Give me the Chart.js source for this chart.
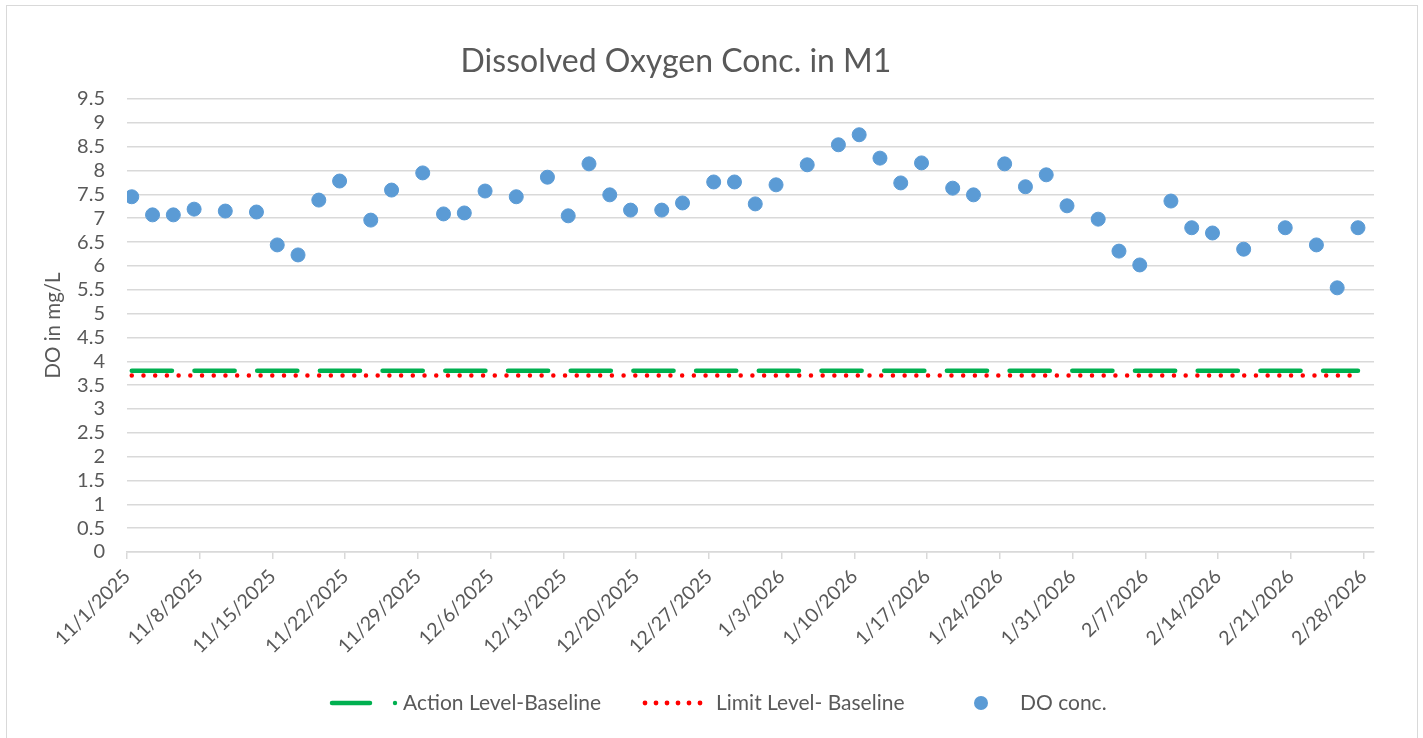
<!DOCTYPE html>
<html>
<head>
<meta charset="utf-8">
<script src="https://cdn.jsdelivr.net/npm/chart.js@4.4.1/dist/chart.umd.min.js"></script>
<style>
  html, body { margin: 0; padding: 0; background: #fff; }
  #wrap { position: relative; width: 1423px; height: 738px; overflow: hidden; }
  #frame { position: absolute; left: 6px; top: 5px; width: 1412px; height: 745px; border: 1.5px solid #d9d9d9; box-sizing: border-box; }
  canvas { position: absolute; left: 0; top: 0; }
</style>
</head>
<body>
<div id="wrap">
  <div id="frame"></div>
  <canvas id="doChart" width="1423" height="738"></canvas>
</div>
<script>
// ===== DATA =====
const sampleDates = [
  "11/1/2025", "11/3/2025", "11/5/2025", "11/7/2025", "11/10/2025", "11/13/2025", "11/15/2025",
  "11/17/2025", "11/19/2025", "11/21/2025", "11/24/2025", "11/26/2025", "11/29/2025",
  "12/1/2025", "12/3/2025", "12/5/2025", "12/8/2025", "12/11/2025", "12/13/2025", "12/15/2025",
  "12/17/2025", "12/19/2025", "12/22/2025", "12/24/2025", "12/27/2025", "12/29/2025", "12/31/2025",
  "1/2/2026", "1/5/2026", "1/8/2026", "1/10/2026", "1/12/2026", "1/14/2026", "1/16/2026",
  "1/19/2026", "1/21/2026", "1/24/2026", "1/26/2026", "1/28/2026", "1/30/2026",
  "2/2/2026", "2/4/2026", "2/6/2026", "2/9/2026", "2/11/2026", "2/13/2026", "2/16/2026",
  "2/20/2026", "2/23/2026", "2/25/2026", "2/27/2026"
];
const doValues = [
  7.45, 7.07, 7.07, 7.19, 7.15, 7.13, 6.44,
  6.23, 7.38, 7.78, 6.96, 7.59, 7.95,
  7.09, 7.11, 7.57, 7.45, 7.86, 7.05, 8.14,
  7.49, 7.17, 7.17, 7.32, 7.76, 7.76, 7.30,
  7.70, 8.12, 8.54, 8.75, 8.26, 7.74, 8.16,
  7.63, 7.49, 8.14, 7.66, 7.91, 7.26,
  6.98, 6.31, 6.02, 7.36, 6.80, 6.69, 6.35,
  6.80, 6.44, 5.54, 6.80
];
const actionLevel = 3.8;
const limitLevel = 3.7;
const sampleHour = 11;

const tickDates = [
  "11/1/2025", "11/8/2025", "11/15/2025", "11/22/2025", "11/29/2025", "12/6/2025",
  "12/13/2025", "12/20/2025", "12/27/2025", "1/3/2026", "1/10/2026", "1/17/2026",
  "1/24/2026", "1/31/2026", "2/7/2026", "2/14/2026", "2/21/2026", "2/28/2026"
];
const axisStart = "11/1/2025";
const axisEnd = "3/1/2026";
const yMax = 9.5;
const yStep = 0.5;

// ===== HELPERS =====
function dayNum(str) {
  const [m, d, y] = str.split("/").map(Number);
  return Date.UTC(y, m - 1, d) / 86400000;
}
const day0 = dayNum(axisStart);
const toX = (str) => dayNum(str) - day0;

const doPoints = sampleDates.map((d, i) => ({ x: toX(d) + sampleHour / 24, y: doValues[i] }));
const firstX = doPoints[0].x;
const lastX = doPoints[doPoints.length - 1].x;

const FONT = "Lato, 'Open Sans', sans-serif";
const TEXT = "#595959";
const GRID = "#d9d9d9";

// ===== LEGEND (drawn like Excel's) =====
const excelLegend = {
  id: "excelLegend",
  afterDraw(chart) {
    const ctx = chart.ctx;
    const y = 703;
    ctx.save();
    ctx.font = "21px " + FONT;
    ctx.textBaseline = "middle";
    ctx.textAlign = "left";

    // action level
    ctx.strokeStyle = "#00b050";
    ctx.lineWidth = 4.5;
    ctx.lineCap = "round";
    ctx.beginPath(); ctx.moveTo(332, y); ctx.lineTo(370, y); ctx.stroke();
    ctx.fillStyle = "#00b050";
    ctx.beginPath(); ctx.arc(395, y, 2.2, 0, Math.PI * 2); ctx.fill();
    ctx.fillStyle = TEXT;
    ctx.fillText("Action Level-Baseline", 403, y);

    // limit level
    ctx.fillStyle = "#ff0000";
    for (let i = 0; i < 6; i++) {
      ctx.beginPath(); ctx.arc(645 + i * 11, y, 2.4, 0, Math.PI * 2); ctx.fill();
    }
    ctx.fillStyle = TEXT;
    ctx.fillText("Limit Level- Baseline", 716, y);

    // DO conc.
    ctx.fillStyle = "#5b9bd5";
    ctx.beginPath(); ctx.arc(981, y, 7, 0, Math.PI * 2); ctx.fill();
    ctx.fillStyle = TEXT;
    ctx.fillText("DO conc.", 1020, y);
    ctx.restore();
  }
};

// ===== CHART =====
new Chart(document.getElementById("doChart"), {
  type: "scatter",
  data: {
    datasets: [
      {
        label: "Action Level-Baseline",
        type: "line",
        data: [{ x: firstX, y: actionLevel }, { x: lastX, y: actionLevel }],
        borderColor: "#00b050",
        borderWidth: 4.5,
        borderDash: [40.2, 22.5],
        borderCapStyle: "round",
        pointRadius: 0,
        fill: false,
        order: 2
      },
      {
        label: "Limit Level- Baseline",
        type: "line",
        data: [{ x: firstX, y: limitLevel }, { x: lastX, y: limitLevel }],
        borderColor: "#ff0000",
        borderWidth: 4.5,
        borderDash: [0.01, 11.7],
        borderCapStyle: "round",
        pointRadius: 0,
        fill: false,
        order: 1
      },
      {
        label: "DO conc.",
        data: doPoints,
        backgroundColor: "#5b9bd5",
        borderColor: "#5b9bd5",
        pointRadius: 7,
        pointHoverRadius: 7,
        order: 0
      }
    ]
  },
  options: {
    responsive: false,
    animation: false,
    events: [],
    // negative left padding keeps the title centred where Excel put it
    layout: { padding: { left: -22, right: 49, top: 0, bottom: 0 } },
    plugins: {
      legend: { display: false },
      tooltip: { enabled: false },
      title: {
        display: true,
        text: "Dissolved Oxygen Conc. in M1",
        color: TEXT,
        font: { family: FONT, size: 32, weight: "normal" },
        padding: { top: 42, bottom: 18.6 }
      }
    },
    scales: {
      x: {
        type: "linear",
        min: 0,
        max: toX(axisEnd),
        afterBuildTicks: (s) => { s.ticks = tickDates.map(t => ({ value: toX(t) })); },
        afterFit: (s) => { s.height = 186; },
        ticks: {
          autoSkip: false,
          minRotation: 45,
          maxRotation: 45,
          padding: 6,
          color: TEXT,
          font: { family: FONT, size: 19.5 },
          callback: (v, i) => tickDates[i]
        },
        grid: { drawOnChartArea: false, drawTicks: true, tickLength: 7, color: GRID, lineWidth: 1.5 },
        border: { color: GRID, width: 1.5 }
      },
      y: {
        min: 0,
        max: yMax,
        afterFit: (s) => { s.width = 149; },
        ticks: {
          stepSize: yStep,
          autoSkip: false,
          padding: 22,
          color: TEXT,
          font: { family: FONT, size: 20 },
          callback: (v) => String(+v.toFixed(1))
        },
        grid: { color: GRID, lineWidth: 1.5, drawTicks: false },
        border: { display: false },
        title: {
          display: true,
          text: "DO in mg/L",
          color: TEXT,
          font: { family: FONT, size: 20.5 },
          padding: { top: 63, bottom: 0 }
        }
      }
    }
  },
  plugins: [excelLegend]
});
</script>
</body>
</html>
